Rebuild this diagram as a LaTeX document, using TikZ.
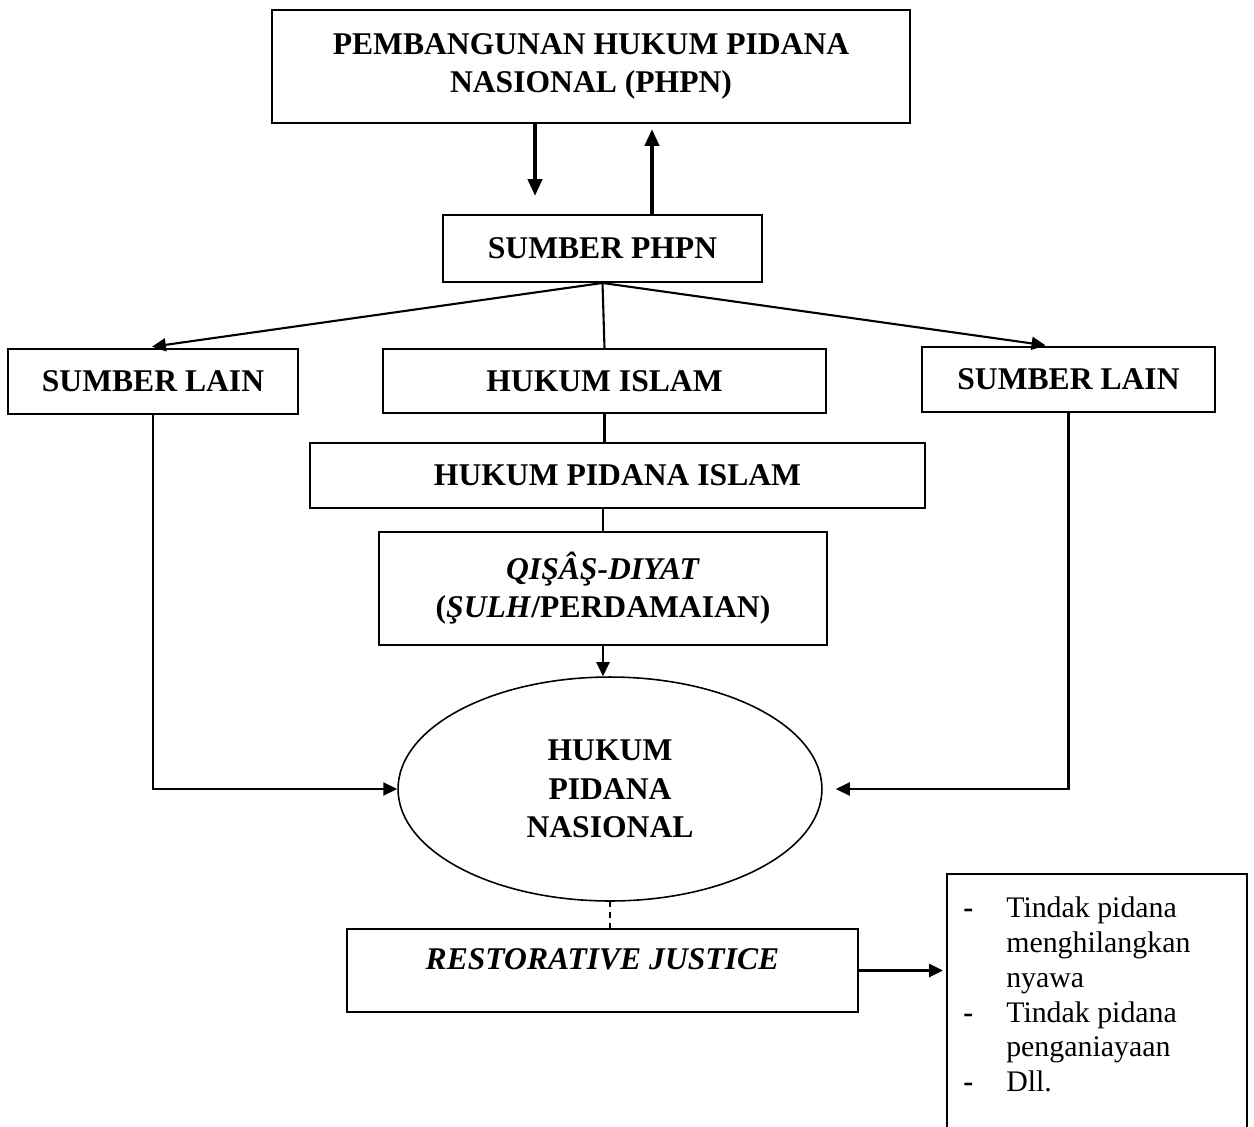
\documentclass[tikz,border=0pt]{standalone}
\usepackage{fontspec}
\setmainfont{Liberation Serif}
\usetikzlibrary{shapes.geometric}
\usetikzlibrary{positioning}
\usetikzlibrary{arrows.meta}

\begin{document}
\begin{tikzpicture} [
          x = 0.02cm, y = -0.02cm,
          box/.style = {draw, line width=1.1pt, align=center, inner sep=2pt,
                        font=\fontsize{18}{21.6}\selectfont\bfseries},
          oval/.style = {draw, ellipse, line width=0.9pt, align=center, inner sep=0pt,
                         font=\fontsize{18}{22}\selectfont\bfseries,
                         minimum width=8.48cm, minimum height=4.48cm},
          link/.style = {line width=1.2pt},
          arrow/.style = {line width=1.2pt, -{Triangle[length=0.28cm, width=0.26cm]}},
          big arrow/.style = {line width=2.3pt, -{Triangle[length=0.34cm, width=0.28cm]}},
          ]
          \useasboundingbox (0,0) rectangle (1254,1126);

          \node[box, minimum width=12.76cm, minimum height=2.26cm] (phpn) at (591,66.5)
               {PEMBANGUNAN HUKUM PIDANA\\NASIONAL (PHPN)};
          \node[box, minimum width=6.38cm, minimum height=1.34cm] (sumber) at (602.5,248.5) {SUMBER PHPN};
          \node[box, minimum width=5.8cm, minimum height=1.3cm] (lainL) at (153,381.5) {SUMBER LAIN};
          \node[box, minimum width=8.86cm, minimum height=1.28cm] (islam) at (604.5,381) {HUKUM ISLAM};
          \node[box, minimum width=5.86cm, minimum height=1.3cm] (lainR) at (1068.5,379.5) {SUMBER LAIN};
          \node[box, minimum width=12.3cm, minimum height=1.3cm] (pidislam) at (617.5,475.5) {HUKUM PIDANA ISLAM};
          \node[box, minimum width=8.96cm, minimum height=2.26cm] (qisas) at (603,588.5)
               {\textit{QIŞÂŞ-DIYAT}\\(\textit{ŞULH}/PERDAMAIAN)};
          \node[oval] (hpn) at (610,789) {HUKUM\\PIDANA\\NASIONAL};
          \node[box, minimum width=10.22cm, minimum height=1.66cm, text depth=0.44cm] (rj) at (602.5,970.5)
               {\textit{RESTORATIVE JUSTICE}};
          \node[minimum width=5.98cm, minimum height=5.04cm, anchor=north west, inner sep=0pt] (listbox) at (947,874) {};
          \node[anchor=north west, inner sep=0pt, align=left, font=\fontsize{17}{19.8}\selectfont] (list) at (963,893)
               {\begin{tabular}{@{}l@{\hspace{0.66cm}}l@{}}
                \textbf{-} & Tindak pidana\\
                           & menghilangkan\\
                           & nyawa\\
                \textbf{-} & Tindak pidana\\
                           & penganiayaan\\
                \textbf{-} & Dll.
                \end{tabular}};

          \draw[line width=1.1pt] (listbox.south west) -- (listbox.north west)
               -- (listbox.north east) -- (listbox.south east);

          \draw[big arrow, shorten >=0.36cm] ([xshift=-1.12cm]phpn.south) -- ([xshift=-1.12cm]phpn.south |- sumber.north);
          \draw[big arrow, shorten >=0.1cm] ([xshift=0.99cm]sumber.north) -- ([xshift=0.99cm]sumber.north |- phpn.south);

          \draw[arrow, shorten >=0.18cm] (sumber.south) -- ([xshift=-0.2cm]lainL.north);
          \draw[arrow, shorten >=0.1cm] (sumber.south) -- ([xshift=-0.36cm]lainR.north);
          \draw[link] (sumber.south) -- (islam.north);
          \draw[link] (islam.south) -- (islam.south |- pidislam.north);
          \draw[link] (qisas.north |- pidislam.south) -- (qisas.north);
          \draw[arrow] (qisas.south) -- (qisas.south |- hpn.north);

          \draw[arrow] (lainL.south) |- (hpn.west);
          \draw[arrow, shorten >=0.26cm] (lainR.south) |- (hpn.east);

          \draw[link, dashed] (hpn.south) -- (hpn.south |- rj.north);
          \draw[arrow, line width=1.8pt, shorten >=0.08cm] (rj.east) -- (rj.east -| listbox.west);
        \end{tikzpicture}
\end{document}
